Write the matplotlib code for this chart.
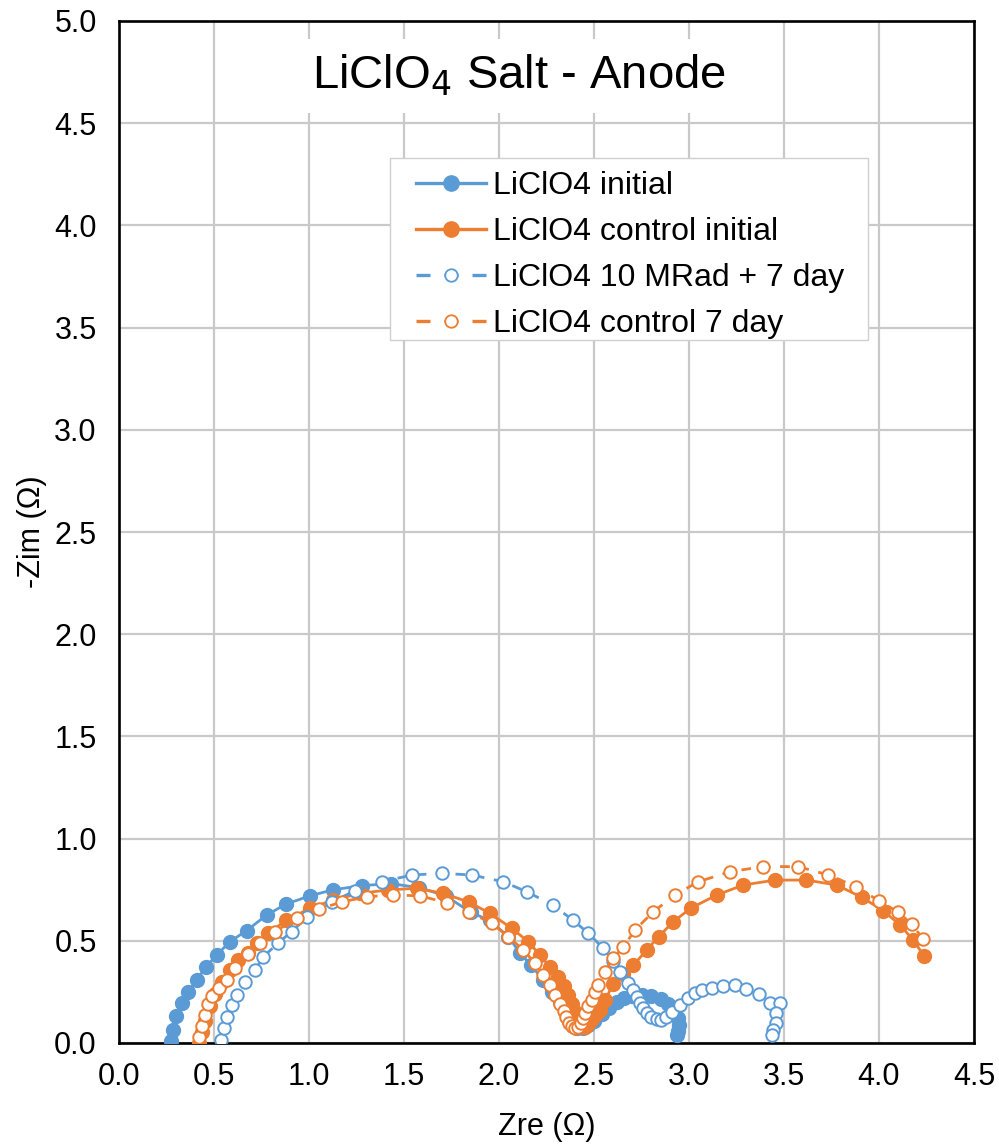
import matplotlib
matplotlib.use("Agg")
import matplotlib.pyplot as plt
from matplotlib.lines import Line2D
from matplotlib.patches import Rectangle

plt.rcParams['font.family'] = ['Liberation Sans', 'DejaVu Sans']

BLUE = '#5B9BD5'
ORANGE = '#ED7D31'

# Nyquist data (Zre, -Zim) in ohms
init_zre = [0.272, 0.286, 0.30, 0.33, 0.365, 0.41, 0.458, 0.514, 0.584, 0.672, 0.777, 0.88,
            1.005, 1.128, 1.28, 1.43, 1.58, 1.72, 1.85, 1.95, 2.05, 2.11, 2.17, 2.23, 2.28,
            2.32, 2.35, 2.37, 2.39, 2.41, 2.44, 2.47, 2.50, 2.54, 2.58, 2.62, 2.66, 2.70,
            2.75, 2.80, 2.85, 2.89, 2.92, 2.94, 2.945, 2.94, 2.935]
init_zim = [0.01, 0.064, 0.13, 0.195, 0.25, 0.31, 0.373, 0.43, 0.496, 0.55, 0.626, 0.68,
            0.72, 0.75, 0.77, 0.78, 0.76, 0.72, 0.64, 0.60, 0.52, 0.44, 0.38, 0.31, 0.25,
            0.20, 0.15, 0.11, 0.085, 0.073, 0.075, 0.09, 0.11, 0.14, 0.17, 0.20, 0.22, 0.23,
            0.235, 0.23, 0.215, 0.19, 0.16, 0.12, 0.09, 0.06, 0.04]

ctrl_init_zre = [0.42, 0.435, 0.453, 0.479, 0.505, 0.54, 0.584, 0.628, 0.68, 0.725, 0.786, 0.88,
                 1.005, 1.128, 1.268, 1.417, 1.567, 1.707, 1.84, 1.953, 2.067, 2.154, 2.216,
                 2.268, 2.31, 2.34, 2.365, 2.385, 2.40, 2.415, 2.425, 2.435, 2.45, 2.47, 2.49,
                 2.51, 2.53, 2.56, 2.60, 2.65, 2.707, 2.777, 2.84, 2.918, 3.01, 3.146, 3.286,
                 3.453, 3.618, 3.777, 3.909, 4.023, 4.111, 4.18, 4.237]
ctrl_init_zim = [0.0, 0.055, 0.11, 0.18, 0.24, 0.30, 0.357, 0.406, 0.44, 0.488, 0.537, 0.60,
                 0.659, 0.70, 0.732, 0.749, 0.757, 0.732, 0.69, 0.634, 0.561, 0.496, 0.43,
                 0.373, 0.324, 0.28, 0.235, 0.19, 0.15, 0.115, 0.09, 0.08, 0.08, 0.095, 0.115,
                 0.14, 0.16, 0.21, 0.29, 0.34, 0.38, 0.455, 0.52, 0.594, 0.66, 0.724, 0.773,
                 0.797, 0.797, 0.773, 0.713, 0.647, 0.577, 0.504, 0.426]

rad_7d_zre = [0.535, 0.553, 0.57, 0.593, 0.623, 0.663, 0.716, 0.76, 0.838, 0.909, 0.99, 1.12,
              1.242, 1.382, 1.544, 1.698, 1.856, 2.023, 2.146, 2.283, 2.391, 2.47, 2.549, 2.60,
              2.637, 2.68, 2.707, 2.724, 2.742, 2.76, 2.777, 2.80, 2.83, 2.855, 2.88, 2.909,
              2.953, 2.996, 3.03, 3.067, 3.12, 3.18, 3.242, 3.30, 3.37, 3.426, 3.479, 3.46,
              3.458, 3.44, 3.435]
rad_7d_zim = [0.015, 0.072, 0.129, 0.186, 0.235, 0.30, 0.357, 0.422, 0.49, 0.545, 0.615, 0.69,
              0.745, 0.789, 0.822, 0.83, 0.822, 0.789, 0.74, 0.675, 0.60, 0.537, 0.463, 0.40,
              0.349, 0.295, 0.259, 0.227, 0.194, 0.17, 0.145, 0.129, 0.115, 0.113, 0.125, 0.15,
              0.186, 0.219, 0.243, 0.259, 0.268, 0.28, 0.284, 0.263, 0.238, 0.197, 0.194, 0.145,
              0.096, 0.064, 0.039]

ctrl_7d_zre = [0.423, 0.435, 0.45, 0.47, 0.49, 0.525, 0.567, 0.61, 0.677, 0.742, 0.82, 0.935,
               1.05, 1.172, 1.307, 1.444, 1.584, 1.725, 1.84, 1.961, 2.049, 2.128, 2.19, 2.233,
               2.268, 2.295, 2.32, 2.34, 2.355, 2.37, 2.385, 2.40, 2.415, 2.43, 2.443, 2.453,
               2.47, 2.488, 2.505, 2.523, 2.558, 2.60, 2.655, 2.716, 2.812, 2.926, 3.049, 3.216,
               3.391, 3.575, 3.733, 3.879, 4.0, 4.098, 4.172, 4.233]
ctrl_7d_zim = [0.031, 0.083, 0.137, 0.19, 0.23, 0.27, 0.31, 0.365, 0.435, 0.49, 0.545, 0.61,
               0.654, 0.69, 0.716, 0.724, 0.72, 0.686, 0.642, 0.586, 0.52, 0.455, 0.39, 0.333,
               0.284, 0.235, 0.19, 0.155, 0.125, 0.10, 0.085, 0.075, 0.08, 0.10, 0.12, 0.145,
               0.18, 0.21, 0.25, 0.284, 0.349, 0.414, 0.471, 0.553, 0.642, 0.724, 0.789, 0.838,
               0.863, 0.863, 0.822, 0.765, 0.695, 0.642, 0.582, 0.507]

labels = ['LiClO4 initial', 'LiClO4 control initial',
          'LiClO4 10 MRad + 7 day', 'LiClO4 control 7 day']
x_ticks = [0.0, 0.5, 1.0, 1.5, 2.0, 2.5, 3.0, 3.5, 4.0, 4.5]
y_ticks = [0.0, 0.5, 1.0, 1.5, 2.0, 2.5, 3.0, 3.5, 4.0, 4.5, 5.0]

fig = plt.figure(figsize=(9.99, 11.44), dpi=100)
ax = fig.add_axes([119 / 999, 1 - 1043 / 1144, (974 - 119) / 999, (1043 - 21) / 1144])

solid_kw = dict(lw=2.0, marker='o', markersize=10)
open_kw = dict(lw=2.0, marker='o', markersize=9, markerfacecolor='white',
               markeredgewidth=1.4, dashes=(3.5, 3.5))

ax.plot(init_zre, init_zim, color=BLUE, markerfacecolor=BLUE, markeredgecolor=BLUE,
        label=labels[0], zorder=3, **solid_kw)
ax.plot(ctrl_init_zre, ctrl_init_zim, color=ORANGE, markerfacecolor=ORANGE,
        markeredgecolor=ORANGE, label=labels[1], zorder=4, **solid_kw)
ax.plot(rad_7d_zre, rad_7d_zim, color=BLUE, markeredgecolor=BLUE,
        label=labels[2], zorder=5, **open_kw)
ax.plot(ctrl_7d_zre, ctrl_7d_zim, color=ORANGE, markeredgecolor=ORANGE,
        label=labels[3], zorder=6, **open_kw)

ax.set_xlim(0, 4.5)
ax.set_ylim(0, 5.0)
ax.set_xticks(x_ticks)
ax.set_yticks(y_ticks)
ax.set_xticklabels([f'{v:.1f}' for v in x_ticks])
ax.set_yticklabels([f'{v:.1f}' for v in y_ticks])
ax.tick_params(length=0, labelsize=22, colors='black')
ax.tick_params(axis='x', pad=14)
ax.tick_params(axis='y', pad=16)
ax.grid(True, color='#C9C9C9', lw=1.6, zorder=0)
ax.set_axisbelow(True)
for sp in ax.spines.values():
    sp.set_color('black')
    sp.set_linewidth(1.9)

ax.set_xlabel('Zre (Ω)', fontsize=22, labelpad=14)
ax.set_ylabel('-Zim (Ω)', fontsize=22, labelpad=5)

ax.text(0.468, 0.946, r'LiClO$_4$ Salt - Anode', transform=ax.transAxes,
        ha='center', va='center', fontsize=34, zorder=7,
        bbox=dict(boxstyle='square,pad=0.3', fc='white', ec='none'))

# legend box drawn separately so the side padding can be wider than the top/bottom
ax.add_patch(Rectangle((0.317, 0.688), 0.559, 0.178, transform=ax.transAxes,
                       facecolor='white', edgecolor='#D0D0D0', lw=1.0, zorder=7.5))

handles = [
    Line2D([], [], color=BLUE, lw=2.4, marker='o', markersize=11, markerfacecolor=BLUE),
    Line2D([], [], color=ORANGE, lw=2.4, marker='o', markersize=11, markerfacecolor=ORANGE),
    Line2D([], [], color=BLUE, lw=2.4, marker='o', markersize=9, markerfacecolor='white',
           markeredgewidth=1.3, dashes=(4.2, 4.2)),
    Line2D([], [], color=ORANGE, lw=2.4, marker='o', markersize=9, markerfacecolor='white',
           markeredgewidth=1.3, dashes=(4.2, 4.2)),
]
leg = ax.legend(handles, labels, loc='upper left', bbox_to_anchor=(0.347, 0.853),
                fontsize=23, frameon=False, handlelength=2.2, handletextpad=0.22,
                labelspacing=0.5, borderpad=0, borderaxespad=0)
leg.set_zorder(8)

fig.savefig('out.png', dpi=100)
